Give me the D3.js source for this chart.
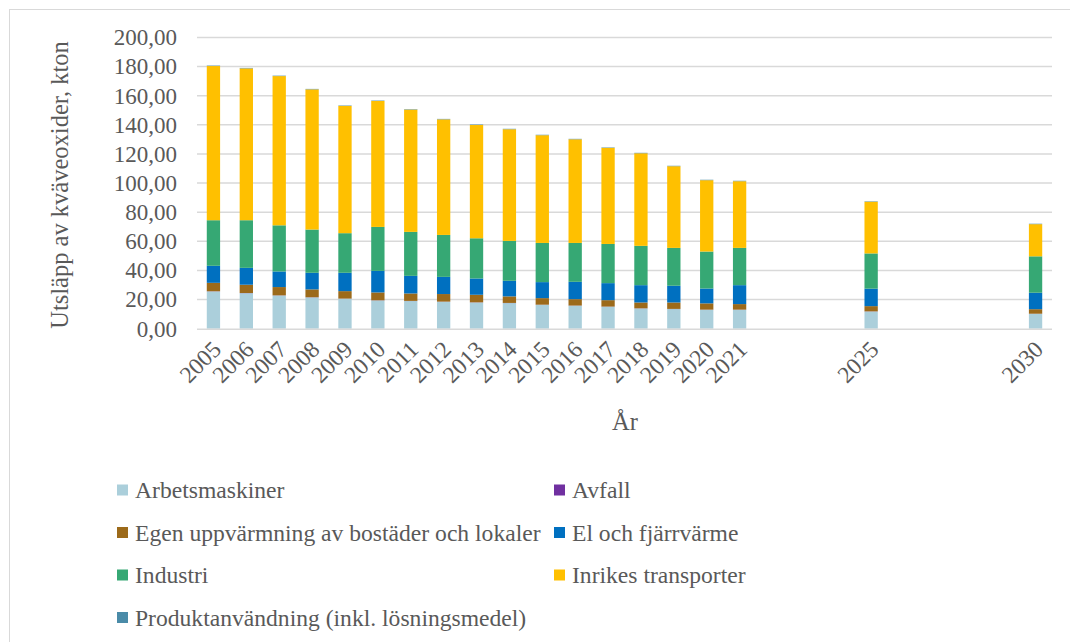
<!DOCTYPE html>
<html>
<head>
<meta charset="utf-8">
<script src="https://cdn.jsdelivr.net/npm/d3@7"></script>
<style>
  body { margin: 0; background: #fff; }
</style>
</head>
<body>
<div id="grafica"></div>
<script>
const years = [2005, 2006, 2007, 2008, 2009, 2010, 2011, 2012, 2013, 2014, 2015, 2016, 2017, 2018, 2019, 2020, 2021, 2025, 2030];

const arbetsmaskiner = [25.6, 24.4, 22.8, 21.5, 20.6, 19.4, 19.0, 18.5, 18.0, 17.6, 16.4, 15.8, 15.1, 13.9, 13.5, 13.0, 13.0, 11.8, 10.2];
const avfall = [0.1, 0.1, 0.1, 0.1, 0.1, 0.1, 0.1, 0.1, 0.1, 0.1, 0.1, 0.1, 0.1, 0.1, 0.1, 0.1, 0.1, 0.1, 0.1];
const egenUppvarmning = [5.8, 5.7, 5.7, 5.4, 5.1, 5.4, 5.1, 5.2, 5.2, 4.5, 4.5, 4.4, 4.4, 4.0, 4.4, 4.3, 3.8, 3.6, 3.1];
const elFjarrvarme = [11.7, 11.6, 10.7, 11.4, 12.6, 14.8, 12.1, 11.8, 11.2, 10.7, 11.0, 11.9, 11.7, 11.9, 11.5, 10.2, 13.0, 12.0, 11.3];
const industri = [31.3, 32.7, 31.7, 29.7, 27.2, 30.2, 30.2, 28.8, 27.6, 27.4, 26.9, 26.7, 26.9, 27.0, 26.0, 25.4, 25.6, 24.2, 25.0];
const inrikesTransporter = [105.9, 104.3, 102.5, 96.3, 87.4, 86.5, 84.0, 79.4, 77.8, 76.7, 74.0, 71.2, 66.0, 63.6, 56.1, 49.0, 45.8, 35.5, 22.1];
const produktanvandning = [0.3, 0.3, 0.3, 0.3, 0.3, 0.3, 0.3, 0.3, 0.3, 0.3, 0.3, 0.3, 0.3, 0.3, 0.3, 0.3, 0.3, 0.3, 0.3];

const serier = [
  { nombre: "Arbetsmaskiner", valores: arbetsmaskiner, color: "#abcfdb" },
  { nombre: "Avfall", valores: avfall, color: "#7030a0" },
  { nombre: "Egen uppvärmning av bostäder och lokaler", valores: egenUppvarmning, color: "#9c6a1a" },
  { nombre: "El och fjärrvärme", valores: elFjarrvarme, color: "#0070c0" },
  { nombre: "Industri", valores: industri, color: "#36a874" },
  { nombre: "Inrikes transporter", valores: inrikesTransporter, color: "#ffc000" },
  { nombre: "Produktanvändning (inkl. lösningsmedel)", valores: produktanvandning, color: "#4a8ba8" },
];

const yTicks = [0, 20, 40, 60, 80, 100, 120, 140, 160, 180, 200];

const fuente = "Liberation Serif";
const gris = "#595959";

// tabla para d3.stack
let tabla = years.map((y, i) => {
  let fila = { year: y };
  serier.forEach((s) => (fila[s.nombre] = s.valores[i]));
  return fila;
});

let width = 1070;
let height = 642;

let svg = d3
  .select("#grafica")
  .append("svg")
  .attr("width", width)
  .attr("height", height)
  .attr("font-family", fuente);

// borde del área del gráfico
svg
  .append("rect")
  .attr("x", 9.5)
  .attr("y", 9.5)
  .attr("width", width + 20)
  .attr("height", height + 20)
  .attr("fill", "none")
  .attr("stroke", "#d9d9d9");

let x = d3.scaleLinear().domain([2004.5, 2030.5]).range([197, 1052]);
let y = d3.scaleLinear().domain([0, 200]).range([328.7, 37.5]);

// rejilla
svg
  .append("g")
  .selectAll("line")
  .data(yTicks.filter((d) => d > 0))
  .enter()
  .append("line")
  .attr("x1", x.range()[0])
  .attr("x2", x.range()[1])
  .attr("y1", (d) => y(d))
  .attr("y2", (d) => y(d))
  .attr("stroke", "#d9d9d9")
  .attr("stroke-width", 1.5);

// eje y
let ejeY = svg
  .append("g")
  .attr("transform", "translate(" + x.range()[0] + ",0)")
  .call(
    d3
      .axisLeft(y)
      .tickValues(yTicks)
      .tickSize(0)
      .tickPadding(20)
      .tickFormat((d) => d3.format(".2f")(d).replace(".", ","))
  );
ejeY.attr("font-family", fuente);
ejeY.select(".domain").remove();
ejeY
  .selectAll("text")
  .attr("font-family", fuente)
  .attr("font-size", "23px")
  .attr("fill", gris);

let stack = d3.stack().keys(serier.map((s) => s.nombre));
let capas = stack(tabla);

let anchoBarra = (x(1) - x(0)) * 0.405;

// barras
svg
  .append("g")
  .selectAll("g")
  .data(capas)
  .enter()
  .append("g")
  .attr("fill", (d, i) => serier[i].color)
  .selectAll("rect")
  .data((d) => d)
  .enter()
  .append("rect")
  .attr("x", (d) => x(d.data.year) - anchoBarra / 2)
  .attr("y", (d) => y(d[1]))
  .attr("width", anchoBarra)
  .attr("height", (d) => y(d[0]) - y(d[1]));

// eje x
svg
  .append("line")
  .attr("x1", x.range()[0])
  .attr("x2", x.range()[1])
  .attr("y1", y(0) + 0.5)
  .attr("y2", y(0) + 0.5)
  .attr("stroke", "#d9d9d9")
  .attr("stroke-width", 1.5);

svg
  .append("g")
  .selectAll("text")
  .data(years)
  .enter()
  .append("text")
  .attr("transform", (d) => "translate(" + (x(d) + 9) + "," + 351 + ") rotate(-45)")
  .attr("text-anchor", "end")
  .attr("font-family", fuente)
  .attr("font-size", "23.5px")
  .attr("fill", gris)
  .text((d) => d);

// títulos
svg
  .append("text")
  .attr("transform", "translate(68,185) rotate(-90)")
  .attr("text-anchor", "middle")
  .attr("font-family", fuente)
  .attr("font-size", "24.5px")
  .attr("fill", gris)
  .text("Utsläpp av kväveoxider, kton");

svg
  .append("text")
  .attr("x", 625)
  .attr("y", 430)
  .attr("text-anchor", "middle")
  .attr("font-family", fuente)
  .attr("font-size", "24.5px")
  .attr("fill", gris)
  .text("År");

// leyenda
let posLeyenda = [
  [117, 490], [554, 490],
  [117, 532.5], [554, 532.5],
  [117, 575], [554, 575],
  [117, 617.5],
];

let leyenda = svg
  .append("g")
  .selectAll("g")
  .data(serier)
  .enter()
  .append("g")
  .attr("transform", (d, i) => "translate(" + posLeyenda[i][0] + "," + posLeyenda[i][1] + ")");

leyenda
  .append("rect")
  .attr("x", 0)
  .attr("y", -5.5)
  .attr("width", 11)
  .attr("height", 11)
  .attr("fill", (d) => d.color);

leyenda
  .append("text")
  .attr("x", 18)
  .attr("y", 8)
  .attr("font-family", fuente)
  .attr("font-size", "23.6px")
  .attr("fill", gris)
  .text((d) => d.nombre);
</script>
</body>
</html>
